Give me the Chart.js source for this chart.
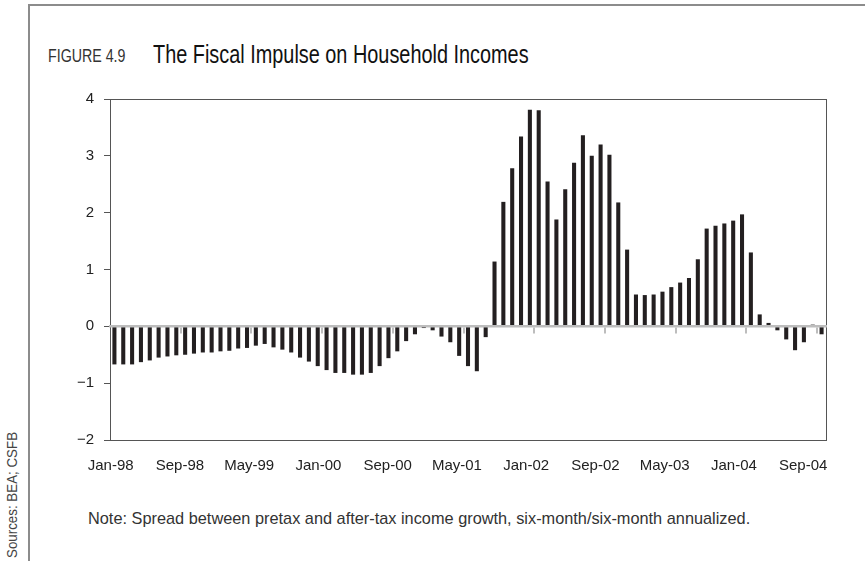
<!DOCTYPE html>
<html>
<head>
<meta charset="utf-8">
<script src="https://cdn.jsdelivr.net/npm/chart.js@4/dist/chart.umd.min.js"></script>
<style>
  html, body { margin: 0; padding: 0; background: #fff; }
  body {
    width: 865px; height: 561px; position: relative; overflow: hidden;
    font-family: "Liberation Sans Narrow", "Liberation Sans", Arial, sans-serif;
  }
  #frame {
    position: absolute; left: 28px; top: 4px; width: 850px; height: 570px;
    border-left: 2px solid #8c8c8c; border-top: 2px solid #8c8c8c;
  }
  .cond { position: absolute; white-space: nowrap; transform-origin: 0 0; }
  #fig { left: 48px; top: 46px; font-size: 18px; color: #333; transform: scaleX(0.79); }
  #title { left: 153px; top: 40px; font-size: 25px; color: #111; transform: scaleX(0.795); }
  #note { left: 88px; top: 509px; font-size: 17px; color: #333; transform: scaleX(0.96); }
  #src {
    position: absolute; left: 0; top: 0; font-size: 14.5px; color: #444; white-space: nowrap;
    transform-origin: top left; transform: translate(4px, 558px) rotate(-90deg) scaleX(0.92);
  }
  #wrap { position: absolute; left: 0; top: 0; width: 865px; height: 561px; }
</style>
</head>
<body>
<div id="frame"></div>
<div id="fig" class="cond">FIGURE 4.9</div>
<div id="title" class="cond">The Fiscal Impulse on Household Incomes</div>
<div id="note" class="cond">Note: Spread between pretax and after-tax income growth, six-month/six-month annualized.</div>
<div id="src">Sources: BEA; CSFB</div>
<div id="wrap"><canvas id="chart" width="865" height="561"></canvas></div>
<script>
// Monthly observations, Jan-98 through Sep-04
const monthNames = ['Jan','Feb','Mar','Apr','May','Jun','Jul','Aug','Sep','Oct','Nov','Dec'];
const years = ['98','99','00','01','02','03','04'];
const months = [];
years.forEach(y => monthNames.forEach(m => months.push(m + '-' + y)));
months.length = 81;

// Spread between pretax and after-tax income growth (percentage points)
const impulse = [
  -0.67, -0.67, -0.67, -0.63, -0.60, -0.55, -0.53, -0.51, -0.50, -0.48, -0.46, -0.46,
  -0.44, -0.43, -0.39, -0.38, -0.34, -0.31, -0.37, -0.41, -0.46, -0.55, -0.62, -0.70,
  -0.77, -0.82, -0.82, -0.85, -0.85, -0.82, -0.70, -0.56, -0.44, -0.26, -0.14, -0.03,
  -0.07, -0.18, -0.28, -0.52, -0.70, -0.79, -0.19,  1.14,  2.19,  2.78,  3.34,  3.81,
   3.80,  2.55,  1.88,  2.41,  2.88,  3.36,  3.00,  3.20,  3.02,  2.18,  1.35,  0.56,
   0.55,  0.56,  0.61,  0.69,  0.77,  0.85,  1.18,  1.72,  1.77,  1.81,  1.86,  1.97,
   1.30,  0.21,  0.06, -0.07, -0.23, -0.42, -0.28,  0.03, -0.14
];

// Date labels shown along the bottom edge
const tickLabels = ['Jan-98','Sep-98','May-99','Jan-00','Sep-00','May-01','Jan-02','Sep-02','May-03','Jan-04','Sep-04'];
const yTicks = [-2, -1, 0, 1, 2, 3, 4];

const FONT = '"Liberation Sans Narrow", "Liberation Sans", Arial, sans-serif';

// Box around the plotting area
const plotFrame = {
  id: 'plotFrame',
  beforeDatasetsDraw(chart) {
    const a = chart.chartArea, c = chart.ctx;
    c.save();
    c.strokeStyle = '#555';
    c.lineWidth = 1;
    c.strokeRect(Math.round(a.left) + 0.5, Math.round(a.top) + 0.5,
                 Math.round(a.right - a.left), Math.round(a.bottom - a.top));
    c.restore();
  }
};

new Chart(document.getElementById('chart'), {
  type: 'bar',
  data: {
    labels: months,
    datasets: [{
      data: impulse,
      backgroundColor: '#231f20',
      borderWidth: 0,
      categoryPercentage: 1,
      barPercentage: 0.46,
      xAxisID: 'x',
      yAxisID: 'y'
    }]
  },
  options: {
    responsive: false,
    animation: false,
    events: [],
    layout: { padding: { left: 0, top: 99, right: 39, bottom: 81 } },
    plugins: { legend: { display: false }, tooltip: { enabled: false } },
    scales: {
      x: {
        type: 'category',
        position: { y: 0 },
        offset: true,
        grid: {
          offset: true,
          drawOnChartArea: false,
          drawTicks: true,
          tickLength: 6,
          lineWidth: 2,
          color: ctx => (ctx.index > 0 && ctx.index % 8 === 0) ? '#bdbdbd' : 'rgba(0,0,0,0)'
        },
        border: { display: true, color: '#bdbdbd', width: 2.5, z: 1 },
        ticks: { display: false }
      },
      xl: {
        type: 'linear',
        position: 'bottom',
        offset: false,
        min: -0.01,
        max: 10.33,
        afterBuildTicks: s => { s.ticks = tickLabels.map((_, i) => ({ value: i })); },
        afterFit: s => { s.height = 40; },
        grid: { display: false, drawTicks: false, offset: false },
        border: { display: false },
        ticks: {
          autoSkip: false,
          maxRotation: 0,
          padding: 17,
          color: '#222',
          font: { family: FONT, size: 15 },
          callback: v => tickLabels[Math.round(v)]
        }
      },
      y: {
        type: 'linear',
        position: 'left',
        min: -2,
        max: 4,
        afterBuildTicks: s => { s.ticks = yTicks.map(v => ({ value: v })); },
        afterFit: s => { s.width = 110; },
        grid: { drawOnChartArea: false, drawTicks: true, tickLength: 6, color: '#555', lineWidth: 1 },
        border: { display: true, color: '#555', width: 1 },
        ticks: {
          padding: 10,
          color: '#222',
          font: { family: FONT, size: 15 },
          callback: v => String(v).replace('-', '\u2212')
        }
      }
    }
  },
  plugins: [plotFrame]
});
</script>
</body>
</html>
